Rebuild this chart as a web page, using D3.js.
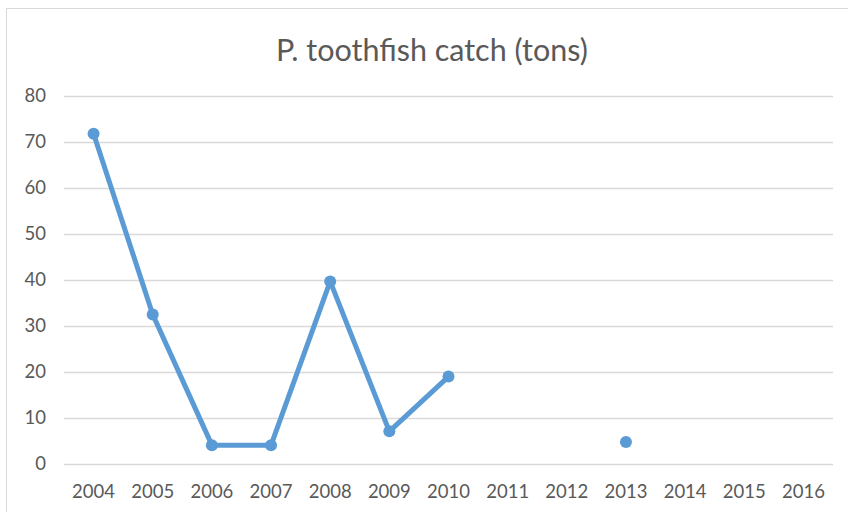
<!DOCTYPE html>
<html>
<head>
<meta charset="utf-8">
<script src="https://cdn.jsdelivr.net/npm/d3@7"></script>
<style>
  html, body { margin: 0; padding: 0; background: #fff; }
  svg { display: block; font-family: Lato, "Open Sans", sans-serif; }
</style>
</head>
<body>
<svg id="chart" width="848" height="512"></svg>
<script>
// Patagonian toothfish catch by year (tons); null = no catch reported
const years = ["2004","2005","2006","2007","2008","2009","2010","2011","2012","2013","2014","2015","2016"];
const catchTons = [71.8, 32.5, 4.1, 4.1, 39.7, 7.1, 19.0, null, null, 4.8, null, null, null];
const yTicks = [0, 10, 20, 30, 40, 50, 60, 70, 80];
const chartTitle = "P. toothfish catch (tons)";

const svg = d3.select("#chart");
const margin = { left: 64, right: 15, top: 96, bottom: 48 };
const W = 848, H = 512;

// Chart frame
svg.append("rect")
  .attr("x", 6.5).attr("y", 8.5)
  .attr("width", W + 10).attr("height", H + 10)
  .attr("fill", "#fff").attr("stroke", "#d9d9d9").attr("stroke-width", 1);

const x = d3.scaleBand().domain(years).range([margin.left, W - margin.right]);
const y = d3.scaleLinear().domain([0, 80]).range([H - margin.bottom, margin.top]);

// Title
svg.append("text")
  .attr("x", 432).attr("y", 61)
  .attr("text-anchor", "middle")
  .attr("font-size", 30.5)
  .attr("fill", "#595959")
  .text(chartTitle);

// Horizontal gridlines
svg.append("g")
  .selectAll("line")
  .data(yTicks)
  .join("line")
  .attr("x1", margin.left).attr("x2", W - margin.right)
  .attr("y1", d => Math.round(y(d)) + 0.5).attr("y2", d => Math.round(y(d)) + 0.5)
  .attr("stroke", "#d9d9d9").attr("stroke-width", 1.5);

// Y axis labels
const yAxis = d3.axisLeft(y).tickValues(yTicks).tickSize(0).tickPadding(18);
const gy = svg.append("g").attr("transform", `translate(${margin.left},0)`).call(yAxis);
gy.select(".domain").remove();
gy.selectAll("text").attr("font-size", 18.5).attr("fill", "#595959").attr("font-family", "Lato, sans-serif");

// X axis labels
const xAxis = d3.axisBottom(x).tickSize(0).tickPadding(21);
const gx = svg.append("g").attr("transform", `translate(0,${H - margin.bottom})`).call(xAxis);
gx.select(".domain").remove();
gx.selectAll("text").attr("font-size", 18.5).attr("fill", "#595959").attr("font-family", "Lato, sans-serif");

const color = "#5b9bd5";
const cx = d => x(d) + x.bandwidth() / 2;
const pts = years.map((yr, i) => ({ yr, v: catchTons[i] }));

// Line (breaks at gaps)
const line = d3.line()
  .defined(d => d.v != null)
  .x(d => cx(d.yr))
  .y(d => y(d.v));

svg.append("path")
  .datum(pts)
  .attr("d", line)
  .attr("fill", "none")
  .attr("stroke", color)
  .attr("stroke-width", 5)
  .attr("stroke-linejoin", "round")
  .attr("stroke-linecap", "round");

// Markers
svg.append("g")
  .selectAll("circle")
  .data(pts.filter(d => d.v != null))
  .join("circle")
  .attr("cx", d => cx(d.yr))
  .attr("cy", d => y(d.v))
  .attr("r", 6)
  .attr("fill", color);
</script>
</body>
</html>
